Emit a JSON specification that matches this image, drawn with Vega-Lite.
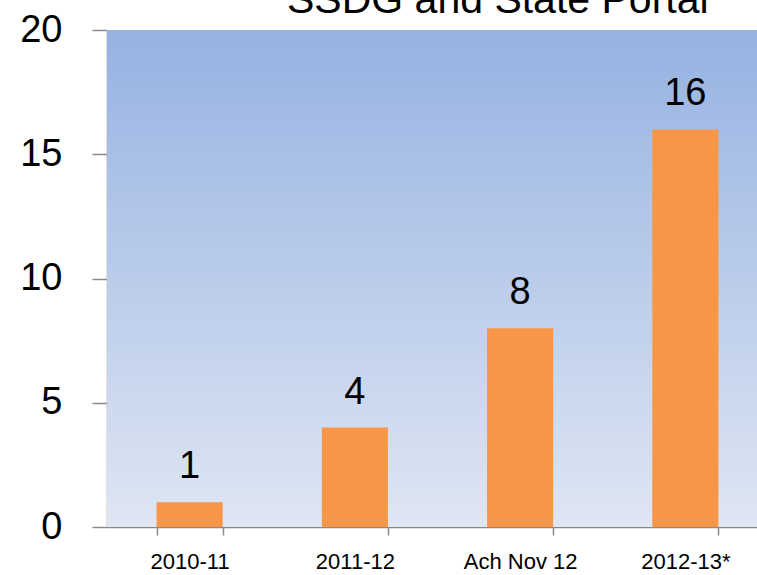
{
  "$schema": "https://vega.github.io/schema/vega-lite/v6.json",
  "autosize": "none",
  "width": 650,
  "height": 497,
  "padding": {"left": 107, "top": 30, "right": 0, "bottom": 48},
  "background": "white",
  "config": {
    "view": {"stroke": null},
    "font": "Liberation Sans",
    "title": {"fontWeight": "normal", "font": "Liberation Sans", "fontSize": 41, "color": "#000000"}
  },
  "title": {
    "text": "SSDG and State Portal",
    "fontSize": 41,
    "fontWeight": 400,
    "font": "Liberation Sans",
    "color": "#000000",
    "anchor": "start",
    "frame": "group",
    "dx": 180,
    "offset": -43,
    "baseline": "alphabetic"
  },
  "data": {
    "values": [
      {"period": "2010-11", "value": 1},
      {"period": "2011-12", "value": 4},
      {"period": "Ach Nov 12", "value": 8},
      {"period": "2012-13*", "value": 16}
    ]
  },
  "layer": [
    {
      "mark": {
        "type": "rect",
        "color": {
          "gradient": "linear",
          "x1": 0, "y1": 0, "x2": 0, "y2": 1,
          "stops": [
            {"offset": 0, "color": "#96B2E2"},
            {"offset": 1, "color": "#DFE6F3"}
          ]
        }
      },
      "encoding": {
        "x": {"value": 0},
        "x2": {"value": "width"},
        "y": {"value": 0},
        "y2": {"value": "height"}
      }
    },
    {
      "mark": {"type": "bar", "color": "#F79646"},
      "encoding": {
        "x": {
          "field": "period",
          "type": "nominal",
          "sort": null,
          "scale": {"range": [0, 661], "paddingInner": 0.6, "paddingOuter": 0.3},
          "axis": {
            "title": null,
            "labelAngle": 0,
            "labelFontSize": 22,
            "labelColor": "#000000",
            "labelPadding": 16,
            "tickBand": "extent",
            "tickSize": 8,
            "tickColor": "#898989",
            "tickWidth": 1.5,
            "domainColor": "#898989",
            "domainWidth": 1.5
          }
        },
        "y": {
          "field": "value",
          "type": "quantitative",
          "scale": {"domain": [0, 20], "nice": false},
          "axis": {
            "title": null,
            "values": [0, 5, 10, 15, 20],
            "grid": false,
            "labelFontSize": 38,
            "labelColor": "#000000",
            "labelPadding": 30,
            "tickSize": 15,
            "tickColor": "#898989",
            "tickWidth": 1.5,
            "domainColor": "#898989",
            "domainWidth": 1.5
          }
        }
      }
    },
    {
      "mark": {"type": "text", "fontSize": 38, "color": "#000000", "baseline": "alphabetic", "dy": -24},
      "encoding": {
        "x": {"field": "period", "type": "nominal", "sort": null},
        "y": {"field": "value", "type": "quantitative"},
        "text": {"field": "value", "type": "quantitative"}
      }
    }
  ]
}
